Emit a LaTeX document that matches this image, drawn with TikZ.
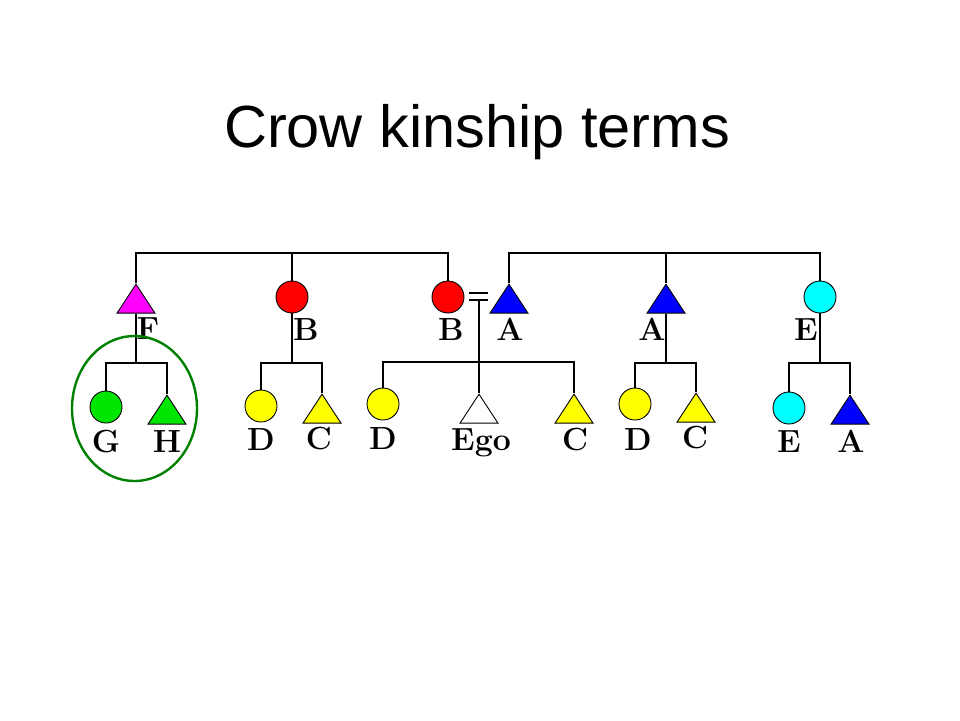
\documentclass[tikz,border=0pt]{standalone}
\usepackage{fontspec}
\setmainfont{Latin Modern Roman}
\newfontfamily\titlefont{Liberation Sans}
\usetikzlibrary{shapes.geometric, positioning, calc}
\definecolor{crowred}{RGB}{255, 0, 0}
\definecolor{crowmag}{RGB}{255, 0, 255}
\definecolor{crowblue}{RGB}{0, 0, 255}
\definecolor{crowcyan}{RGB}{0, 255, 255}
\definecolor{crowyel}{RGB}{255, 255, 0}
\definecolor{crowgreen}{RGB}{0, 230, 0}
\definecolor{ringgreen}{RGB}{0, 128, 0}
\tikzset{
  fem/.style={circle, draw=black, line width=0.9pt, minimum size=32pt, inner sep=0pt},
  male/.style={isosceles triangle, shape border rotate=90, isosceles triangle stretches,
    draw=black, line width=0.9pt, minimum width=38pt, minimum height=29pt, inner sep=0pt, anchor=apex},
  lab/.style={font=\fontsize{32}{34}\selectfont\bfseries, anchor=base, inner sep=0pt},
  kin/.style={line width=1.6pt, black}
}
\begin{document}
\begin{tikzpicture}[x=1pt, y=-1pt]
  \useasboundingbox (0,0) rectangle (960,720);

  % Title
  \node[font=\titlefont\fontsize{59.5}{70}\selectfont, anchor=base] (title) at (477,147) {Crow kinship terms};

  % Parents' generation
  \node[male, fill=crowmag] (fa) at (136,283) {};
  \node[fem, fill=crowred] (b1) at (292,297) {};
  \node[fem, fill=crowred] (mo) at (448,297) {};
  \node[male, fill=crowblue] (a1) at (509,283) {};
  \node[male, fill=crowblue] (a2) at (666,283) {};
  \node[fem, fill=crowcyan] (e1) at (820,297) {};

  \node[lab] (lfa) at (148,339) {F};
  \node[lab] (lb1) at (306,340) {B};
  \node[lab] (lmo) at (451,340) {B};
  \node[lab] (la1) at (510,340) {A};
  \node[lab] (la2) at (652,340) {A};
  \node[lab] (le1) at (806,340) {E};

  % Children's generation
  \node[fem, fill=crowgreen] (g) at (106,407) {};
  \node[male, fill=crowgreen] (h) at (167,394) {};
  \node[fem, fill=crowyel] (d1) at (261,406) {};
  \node[male, fill=crowyel] (c1) at (322,393) {};
  \node[fem, fill=crowyel] (d2) at (383,404) {};
  \node[male, fill=white] (ego) at (479,393) {};
  \node[male, fill=crowyel] (c2) at (574,393) {};
  \node[fem, fill=crowyel] (d3) at (635,404) {};
  \node[male, fill=crowyel] (c3) at (696,392) {};
  \node[fem, fill=crowcyan] (e2) at (789,408) {};
  \node[male, fill=crowblue] (a3) at (850,394) {};

  \node[lab] (lg) at (106,452) {G};
  \node[lab] (lh) at (167,452) {H};
  \node[lab] (ld1) at (261,450) {D};
  \node[lab] (lc1) at (319,449) {C};
  \node[lab] (ld2) at (383,449) {D};
  \node[lab] (lego) at (481,450) {Ego};
  \node[lab] (lc2) at (575,450) {C};
  \node[lab] (ld3) at (638,450) {D};
  \node[lab] (lc3) at (695,448) {C};
  \node[lab] (le2) at (789,452) {E};
  \node[lab] (la3) at (851,452) {A};

  % Sibling bars
  \coordinate (top1) at (292,253);
  \coordinate (top2) at (666,253);
  \draw[kin] (fa.apex) |- (top1) -| (mo.north);
  \draw[kin] (top1) -- (b1.north);
  \draw[kin] (a1.apex) |- (top2) -| (e1.north);
  \draw[kin] (top2) -- (a2.apex);

  % Marriage
  \coordinate (m1) at (469,293);
  \coordinate (m2) at (488,293);
  \coordinate (m3) at (469,300);
  \coordinate (m4) at (488,300);
  \coordinate (mid) at (479,300);
  \draw[kin] (m1) -- (m2);
  \draw[kin] (m3) -- (m4);

  % Descent lines
  \coordinate (kf) at (136,363);
  \coordinate (kb) at (292,363);
  \coordinate (ke) at (479,362);
  \coordinate (ka) at (666,363);
  \coordinate (kc) at (820,363);
  \draw[kin] (fa.south) -- (kf);
  \draw[kin] (g.north) |- (kf) -| (h.apex);
  \draw[kin] (b1.south) -- (kb);
  \draw[kin] (d1.north) |- (kb) -| (c1.apex);
  \draw[kin] (mid) -- (ego.apex);
  \draw[kin] (d2.north) |- (ke) -| (c2.apex);
  \draw[kin] (a2.south) -- (ka);
  \draw[kin] (d3.north) |- (ka) -| (c3.apex);
  \draw[kin] (e1.south) -- (kc);
  \draw[kin] (e2.north) |- (kc) -| (a3.apex);

  % Ring round G and H
  \node[ellipse, draw=ringgreen, line width=2.4pt, minimum width=125pt, minimum height=145pt, inner sep=0pt] (ring) at (134.5,408.5) {};
\end{tikzpicture}
\end{document}
